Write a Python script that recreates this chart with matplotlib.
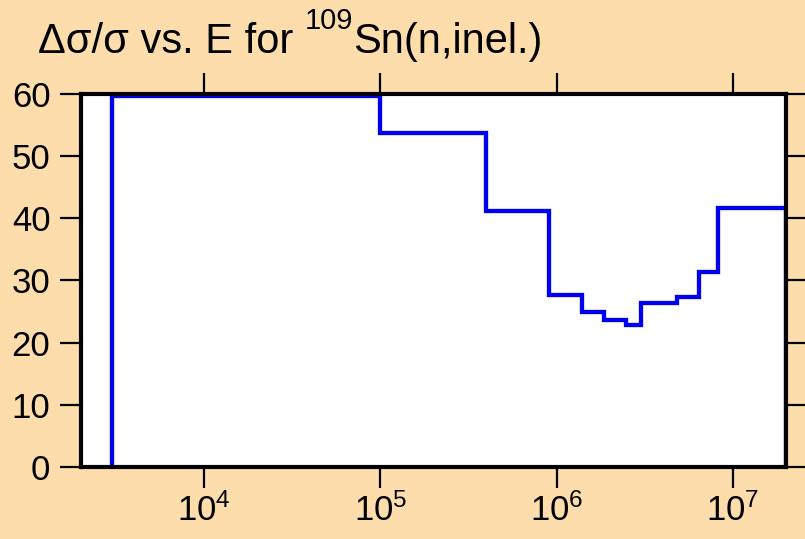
# relative uncertainty of 109Sn(n,inel.) cross section, step plot
import matplotlib
matplotlib.use('Agg')
import matplotlib.pyplot as plt
from matplotlib.ticker import NullLocator, FixedLocator
from matplotlib.transforms import offset_copy

plt.rcParams['font.family'] = ['Liberation Sans', 'DejaVu Sans']
plt.rcParams['mathtext.fontset'] = 'custom'
plt.rcParams['mathtext.rm'] = 'Liberation Sans'
plt.rcParams['mathtext.it'] = 'Liberation Sans'
plt.rcParams['mathtext.default'] = 'regular'

# bin edges (eV) and relative uncertainty (%) in each bin
edges = [3e3, 1e5, 4.0e5, 9.1e5, 1.4e6, 1.85e6, 2.48e6, 3.0e6, 4.8e6, 6.46e6, 8.2e6, 2e7]
unc = [59.7, 53.8, 41.2, 27.7, 25.0, 23.6, 22.8, 26.4, 27.4, 31.4, 41.6]
yticks = [0, 10, 20, 30, 40, 50, 60]
# title pieces: text, font size, raise (px)
title_parts = [('Δσ/σ vs. E for ', 30, 0), ('109', 21, 24), ('Sn(n,inel.)', 30, 0)]

bg = '#FDDDAB'
fig = plt.figure(figsize=(8.05, 5.39), dpi=100, facecolor=bg)
ax = fig.add_axes([0.1006, 0.1336, 0.8764, 0.692], facecolor='white')

ax.stairs(unc, edges, baseline=0, color='#0000EE', linewidth=3.1, zorder=2)

ax.set_xscale('log')
ax.set_xlim(2e3, 2.02e7)
ax.set_ylim(0, 60)
ax.xaxis.set_major_locator(FixedLocator([1e4, 1e5, 1e6, 1e7]))
ax.xaxis.set_minor_locator(NullLocator())
ax.set_yticks(yticks)

for s in ax.spines.values():
    s.set_linewidth(3)
    s.set_zorder(3)
ax.tick_params(which='major', direction='out', length=15, width=1.6,
               top=True, right=True, labelsize=25, colors='black')
ax.tick_params(axis='y', pad=7)
ax.tick_params(axis='x', pad=4)

# title built piece by piece so the superscript sits high like the original
renderer = fig.canvas.get_renderer()
x0 = 38
for txt, size, up in title_parts:
    tr = offset_copy(fig.transFigure, fig=fig, x=x0 * 72 / 100, y=up * 72 / 100, units='points')
    t = fig.text(0, 1 - 53 / 539, txt, fontsize=size, va='baseline', ha='left', transform=tr)
    x0 += t.get_window_extent(renderer).width

fig.savefig('out.png', dpi=100, facecolor=bg)
